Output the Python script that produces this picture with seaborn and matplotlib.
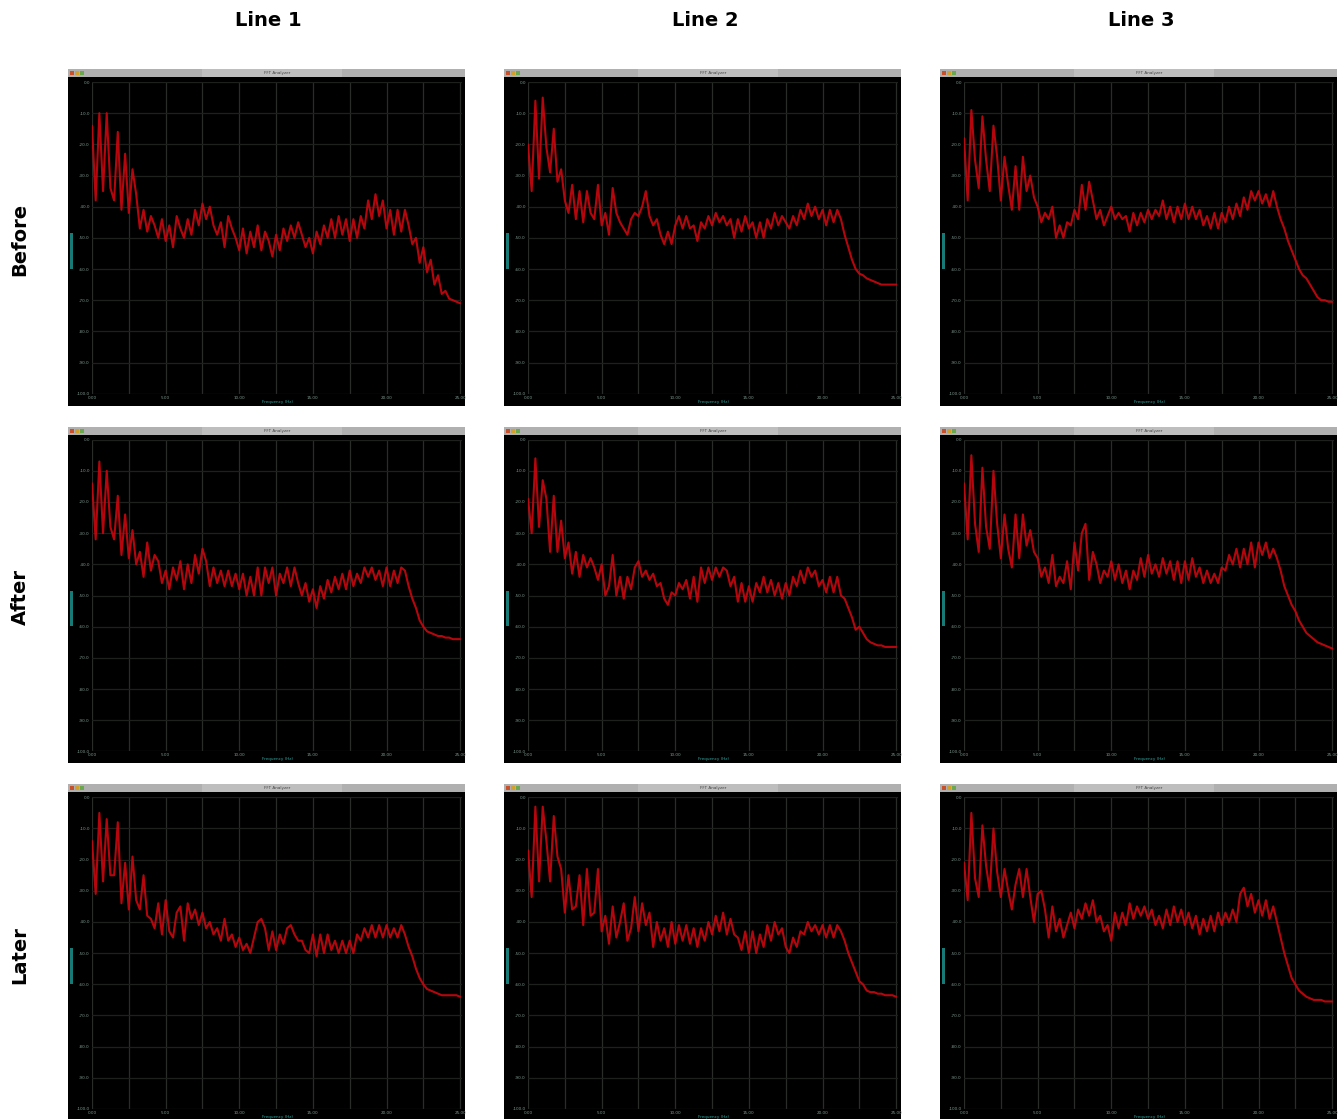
import matplotlib
matplotlib.use("Agg")
import matplotlib.pyplot as plt
import pandas as pd
import seaborn as sns
from matplotlib.patches import Rectangle

# Spectrum magnitude in dB per FFT bin
before_line1 = [-14, -38, -10, -35, -10, -34, -38, -16, -41, -23, -42, -28, -36, -47, -41, -48, -43, -46, -50, -44, -51, -46, -53, -43,
                -47, -50, -44, -49, -41, -46, -39, -44, -40, -46, -49, -45, -53, -43, -47, -50, -54, -47, -55, -48, -53, -46, -54, -48, -51, -56,
                -49, -54, -47, -51, -46, -50, -45, -49, -53, -50, -55, -48, -52, -46, -50, -44, -50, -43, -49, -44, -51, -44, -50, -43, -47,
                -38, -44, -36, -43, -38, -47, -41, -49, -41, -48, -41, -46, -52, -50, -58, -53, -61, -57, -65, -62, -68, -67, -69.5, -70, -70.5, -71]
before_line2 = [-20, -35, -6, -31, -5, -21, -29, -15, -32, -28, -38, -42, -33, -44, -35, -45, -35, -42, -44, -33, -46, -42, -49, -34,
                -42, -45, -47, -49, -44, -42, -43, -40, -35, -43, -46, -44, -49, -52, -48, -52, -46, -43, -47, -43, -47, -46, -51, -45, -47, -43,
                -46, -42, -45, -43, -46, -44, -50, -44, -48, -43, -47, -45, -50, -45, -50, -44, -47, -42, -46, -43, -45, -47, -43, -46, -41,
                -44, -39, -43, -40, -44, -41, -46, -41, -45, -41, -44, -49, -53, -57, -60, -61.5, -62, -63, -63.5, -64, -64.5, -65, -65, -65, -65, -65]
before_line3 = [-18, -38, -9, -25, -34, -11, -25, -35, -14, -24, -38, -24, -33, -41, -27, -41, -24, -35, -30, -37, -40, -45, -42, -44,
                -40, -50, -46, -50, -45, -46, -41, -44, -33, -41, -32, -38, -44, -41, -46, -43, -40, -44, -42, -44, -43, -48, -42, -46, -42, -45,
                -41, -44, -41, -43, -38, -44, -40, -45, -40, -44, -39, -44, -40, -44, -41, -46, -43, -47, -42, -47, -42, -45, -40, -44, -39,
                -43, -37, -41, -35, -38, -35, -39, -36, -40, -35, -40, -44, -47, -51, -54, -57, -60, -62, -63, -65, -67, -69, -70, -70, -70.5, -70.5]
after_line1 = [-14, -32, -7, -30, -10, -28, -32, -18, -37, -24, -38, -29, -40, -36, -44, -33, -42, -37, -39, -46, -42, -48, -41, -45,
               -39, -48, -40, -46, -37, -43, -35, -39, -47, -41, -46, -42, -47, -42, -47, -43, -48, -43, -50, -44, -50, -41, -50, -41, -46, -41,
               -50, -43, -46, -41, -47, -41, -46, -50, -46, -52, -48, -54, -47, -51, -45, -49, -44, -48, -43, -48, -42, -47, -43, -46, -41,
               -44, -41, -45, -42, -47, -41, -47, -42, -46, -41, -42, -47, -51, -54, -58, -60, -61.5, -62, -62.5, -63, -63, -63.5, -63.5, -64, -64, -64]
after_line2 = [-19, -30, -6, -28, -13, -19, -36, -18, -36, -26, -38, -33, -43, -36, -44, -37, -41, -38, -41, -45, -40, -50, -47, -37,
               -50, -44, -51, -44, -48, -41, -39, -44, -42, -45, -43, -47, -46, -51, -53, -49, -50, -46, -48, -45, -51, -44, -52, -41, -46, -41,
               -45, -41, -44, -41, -42, -47, -44, -52, -46, -52, -47, -52, -46, -49, -44, -49, -45, -50, -46, -51, -46, -50, -44, -47, -42,
               -46, -41, -44, -42, -47, -45, -49, -44, -49, -44, -50, -51, -54, -57, -61, -60, -62, -64, -65, -65.5, -66, -66, -66.5, -66.5, -66.5, -66.5]
after_line3 = [-14, -32, -5, -27, -36, -9, -28, -35, -10, -27, -38, -24, -35, -41, -24, -38, -24, -34, -29, -36, -38, -44, -41, -46,
               -37, -47, -44, -46, -39, -48, -33, -42, -30, -27, -45, -36, -40, -46, -42, -44, -39, -45, -40, -46, -42, -48, -42, -45, -38, -44,
               -37, -43, -40, -44, -38, -43, -39, -45, -39, -46, -39, -45, -38, -44, -41, -46, -42, -46, -43, -46, -41, -42, -37, -40, -35,
               -41, -35, -40, -33, -41, -33, -37, -33, -38, -35, -38, -42, -47, -50, -53, -55, -58, -60, -62, -63, -64, -65, -65.5, -66, -66.5, -67]
later_line1 = [-14, -31, -5, -27, -7, -25, -25, -8, -34, -21, -36, -19, -33, -36, -25, -38, -39, -42, -34, -44, -33, -43, -45, -37,
               -35, -46, -34, -39, -36, -41, -37, -42, -40, -44, -42, -46, -39, -46, -44, -48, -45, -49, -47, -50, -45, -40, -39, -42, -49, -43,
               -49, -44, -47, -42, -41, -44, -46, -46, -49, -50, -44, -51, -44, -50, -44, -49, -46, -50, -46, -50, -46, -50, -44, -46, -42,
               -45, -41, -45, -41, -45, -41, -45, -42, -45, -41, -44, -48, -51, -55, -58, -60, -61.5, -62, -62.5, -63, -63.5, -63.5, -63.5, -63.5, -63.5, -64]
later_line2 = [-17, -32, -3, -27, -3, -14, -27, -6, -19, -23, -37, -25, -36, -35, -25, -41, -23, -38, -37, -23, -43, -38, -47, -35,
               -45, -40, -34, -46, -42, -32, -43, -34, -41, -37, -48, -40, -46, -42, -48, -40, -47, -41, -46, -41, -47, -42, -48, -42, -46, -40,
               -44, -38, -43, -37, -44, -39, -44, -45, -49, -43, -50, -43, -50, -44, -48, -41, -46, -40, -44, -42, -48, -50, -45, -48, -43,
               -44, -40, -43, -41, -44, -41, -45, -41, -45, -41, -43, -46, -50, -53, -56, -59, -60, -62, -62.5, -62.5, -63, -63, -63.5, -63.5, -63.5, -64]
later_line3 = [-21, -33, -5, -26, -32, -9, -22, -30, -10, -24, -32, -23, -30, -36, -28, -23, -32, -23, -32, -40, -31, -30, -36, -45,
               -35, -43, -39, -45, -41, -37, -42, -36, -39, -34, -38, -33, -40, -38, -43, -41, -46, -37, -42, -37, -41, -34, -39, -35, -38, -35,
               -39, -36, -41, -38, -42, -36, -41, -35, -40, -36, -41, -37, -42, -38, -44, -39, -43, -38, -43, -37, -41, -37, -40, -36, -40,
               -31, -29, -35, -31, -37, -33, -38, -33, -39, -35, -40, -45, -50, -54, -58, -60, -62, -63, -64, -64.5, -65, -65, -65, -65.5, -65.5, -65.5]

stages = ["Before", "After", "Later"]
lines = ["Line 1", "Line 2", "Line 3"]
spectra = [
    [before_line1, before_line2, before_line3],
    [after_line1, after_line2, after_line3],
    [later_line1, later_line2, later_line3],
]

db_ticks = [0, -10, -20, -30, -40, -50, -60, -70, -80, -90, -100]
bin_ticks = [0, 10, 20, 30, 40, 50, 60, 70, 80, 90, 100]
bin_labels = ["0.00", "", "5.00", "", "10.00", "", "15.00", "", "20.00", "", "25.00"]

rows = []
for stage, row in zip(stages, spectra):
    for line, values in zip(lines, row):
        for i, v in enumerate(values):
            rows.append({"stage": stage, "line": line, "bin": i, "db": v})
df = pd.DataFrame(rows)

sns.set_theme(style="dark", rc={"axes.facecolor": "black", "figure.facecolor": "white"})

g = sns.FacetGrid(df, row="stage", col="line", row_order=stages, col_order=lines,
                  height=3.12, aspect=370 / 312, despine=False)
g.map_dataframe(sns.lineplot, x="bin", y="db", color="#c9070e", linewidth=1.5, estimator=None, alpha=0.9)
g.set_titles(template="")
g.set_axis_labels("", "")
g.figure.set_size_inches(13.39, 11.19)
g.figure.subplots_adjust(left=92 / 1339, right=1334 / 1339, top=1 - 82 / 1119, bottom=1 - 1109 / 1119,
                         wspace=66 / 370, hspace=46 / 312)

px = 1 / 370
py = 1 / 312
for ax in g.axes.flat:
    ax.set_xlim(0, 100.5)
    ax.set_ylim(-100, 0)
    ax.set_xticks(bin_ticks)
    ax.set_xticklabels(bin_labels)
    ax.set_yticks(db_ticks)
    ax.set_yticklabels([f"{d}.0" for d in db_ticks])
    ax.tick_params(axis="both", length=0, labelsize=3, colors="#7f9a92", pad=1.5,
                   labelleft=True, labelbottom=True)
    ax.xaxis.grid(True, color="#2a2c2a", linewidth=0.9)
    ax.yaxis.grid(True, color="#1e201e", linewidth=0.9)
    for spine in ax.spines.values():
        spine.set_visible(False)

    # the analyzer window around the plot: black body, grey title bar
    ax.add_patch(Rectangle((-24 * px, -12 * py), 397 * px, 337 * py, transform=ax.transAxes,
                           fc="black", ec="none", clip_on=False, zorder=-5))
    ax.add_patch(Rectangle((-24 * px, 317 * py), 397 * px, 8 * py, transform=ax.transAxes,
                           fc="#b0b0b0", ec="none", clip_on=False, zorder=-4))
    ax.add_patch(Rectangle((110 * px, 317 * py), 140 * px, 8 * py, transform=ax.transAxes,
                           fc="#bebebe", ec="none", clip_on=False, zorder=-3))
    for k, c in enumerate(["#c8502a", "#d2a02c", "#6aa84f"]):
        ax.add_patch(Rectangle(((-22 + 5 * k) * px, 319 * py), 4 * px, 4 * py, transform=ax.transAxes,
                               fc=c, ec="none", clip_on=False, zorder=-2))
    ax.text(0.5, 321 * py, "FFT Analyzer", transform=ax.transAxes, fontsize=3, color="#444444",
            ha="center", va="center")
    ax.add_patch(Rectangle((-22 * px, 125 * py), 3 * px, 36 * py, transform=ax.transAxes,
                           fc="#177a76", ec="none", clip_on=False, zorder=-2))
    ax.text(0.5, -8 * py, "Frequency (Hz)", transform=ax.transAxes, fontsize=3, color="#2fa8a0",
            ha="center", va="center")

for x, label in zip([268, 705, 1141], lines):
    g.figure.text(x / 1339, 1 - 20 / 1119, label, fontsize=14, fontweight="bold", color="black",
                  ha="center", va="center")
for y, label in zip([239, 597, 955], stages):
    g.figure.text(20 / 1339, 1 - y / 1119, label, fontsize=14, fontweight="bold", color="black",
                  rotation=90, ha="center", va="center")

g.figure.savefig("out.png", dpi=100)
